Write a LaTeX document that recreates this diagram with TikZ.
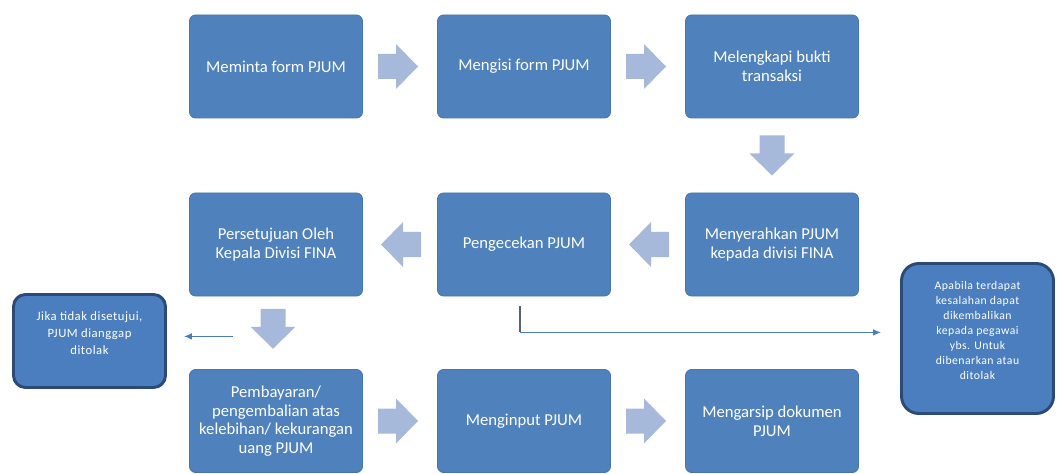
\documentclass[tikz,border=0pt]{standalone}
\usepackage{fontspec}
\setmainfont{Carlito}
\newfontfamily\notefont[LetterSpace=4]{Carlito}
\usetikzlibrary{calc,arrows.meta}
\definecolor{boxblue}{HTML}{4F81BD}
\definecolor{boxedge}{HTML}{4775AD}
\definecolor{arrowblue}{HTML}{A7B9DB}
\definecolor{notefill}{HTML}{4A7EBF}
\definecolor{noteedge}{HTML}{2B4A78}
\definecolor{linkblue}{HTML}{4A7EBB}
\definecolor{linkgray}{HTML}{5A6470}
\begin{document}
\begin{tikzpicture}[x=0.75pt,y=-0.75pt,
  stepbox/.style={rectangle, rounded corners=4.5pt, fill=boxblue, draw=boxedge, line width=0.6pt,
    minimum width=129.75pt, minimum height=77.25pt, text=white, align=center,
    font=\fontsize{12.5}{14}\selectfont, inner sep=2pt},
  notebox/.style={rectangle, fill=notefill, draw=noteedge, line width=2.2pt},
  notetext/.style={text=white, align=center, inner sep=0pt},
  blockarrow/.pic={\fill[arrowblue] (-20,-12.5) -- (-2,-12.5) -- (-2,-22.5) -- (20,0)
    -- (-2,22.5) -- (-2,12.5) -- (-20,12.5) -- cycle;},
  link/.style={draw=linkblue, line width=0.9pt, -{Latex[length=6pt,width=5pt]}}
]
\useasboundingbox (0,0) rectangle (1057,474);

% process boxes
\node[stepbox] (b1) at (276,66.5) {Meminta form PJUM};
\node[stepbox] (b2) at (524,66.5) {Mengisi form PJUM};
\node[stepbox] (b3) at (772,66.5) {Melengkapi bukti\\transaksi};
\node[stepbox] (b4) at (276,244.5) {Persetujuan Oleh\\Kepala Divisi FINA};
\node[stepbox] (b5) at (524,244.5) {Pengecekan PJUM};
\node[stepbox] (b6) at (772,244.5) {Menyerahkan PJUM\\kepada divisi FINA};
\node[stepbox] (b7) at (276,421) {Pembayaran/\\pengembalian atas\\kelebihan/ kekurangan\\uang PJUM};
\node[stepbox] (b8) at (524,421) {Menginput PJUM};
\node[stepbox] (b9) at (772,421) {Mengarsip dokumen\\PJUM};

% block arrows
\pic at ($(b1.east)!0.5!(b2.west)+(-2,0)$) {blockarrow};
\pic at ($(b2.east)!0.5!(b3.west)+(-2,0)$) {blockarrow};
\pic[rotate=-90] at ($(b3.south)!0.5!(b6.north)$) {blockarrow};
\pic[rotate=180] at ($(b6.west)!0.5!(b5.east)+(1,0)$) {blockarrow};
\pic[rotate=180] at ($(b5.west)!0.5!(b4.east)+(1,0)$) {blockarrow};
\pic[rotate=-90] at ($(b4.south)!0.5!(b7.north)+(-3,-4)$) {blockarrow};
\pic at ($(b7.east)!0.5!(b8.west)+(-2,0)$) {blockarrow};
\pic at ($(b8.east)!0.5!(b9.west)+(-2,0)$) {blockarrow};

% notes
\node[notebox, rounded corners=9pt, minimum width=114pt, minimum height=69.75pt] (n1) at (89.5,341) {};
\node[notetext, font=\notefont\fontsize{9.5}{13}\selectfont] (t1) at ($(n1.center)+(0,-8)$)
  {Jika tidak disetujui,\\PJUM dianggap\\ditolak};
\node[notebox, rounded corners=13pt, minimum width=114pt, minimum height=112.5pt] (n2) at (977.5,338.5) {};
\node[notetext, font=\notefont\fontsize{8.8}{11.25}\selectfont] (t2) at ($(n2.center)+(0,-8)$)
  {Apabila terdapat\\kesalahan dapat\\dikembalikan\\kepada pegawai\\ybs. Untuk\\dibenarkan atau\\ditolak};

% thin connectors
\coordinate (p0) at ($(b5.south)+(-4,10)$);
\coordinate (p1) at ($(b5.south)+(-4,36)$);
\coordinate (p2) at ($(n2.west)+(-19,-6)$);
\draw[draw=linkgray, line width=0.9pt] (p0) -- (p1);
\draw[link] (p1) -- (p2 |- p1);
\coordinate (q0) at ($(b4.south)+(-43,40)$);
\coordinate (q1) at ($(n1.east)+(17,-5)$);
\draw[link] (q0) -- (q1 |- q0);
\end{tikzpicture}
\end{document}
